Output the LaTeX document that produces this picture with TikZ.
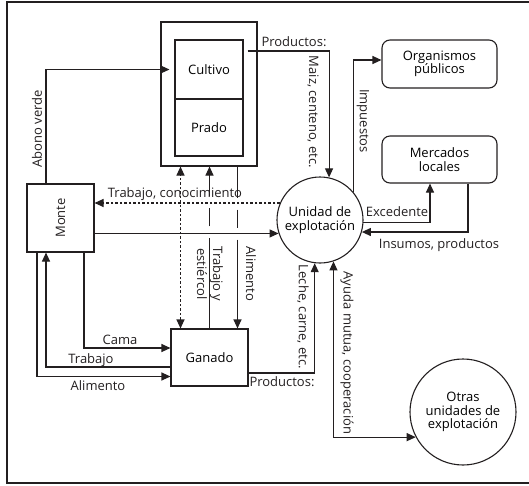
\documentclass[tikz,border=0pt]{standalone}
\usepackage{fontspec}
\setmainfont{Open Sans}
\usetikzlibrary{arrows.meta}
\definecolor{plinea}{RGB}{35,31,32}

\begin{document}
\begin{tikzpicture}[yscale=-1
,ptip/.tip={Triangle[length=9pt,width=8pt]}
,pbox/.style={draw=plinea,line width=1.1pt,inner sep=0pt,font=\fontsize{13}{13.5}\selectfont,align=center}
,pround/.style={pbox,rounded corners=8pt}
,pcirc/.style={pbox,circle}
,parrow/.style={draw=plinea,line width=1.1pt,-ptip}
,pdot/.style={parrow,dash pattern=on 2.5pt off 2pt}
,plabel/.style={inner sep=0pt,text=plinea,font=\fontsize{13}{13.5}\selectfont,align=center}
]
\useasboundingbox (0pt,0pt) rectangle (529pt,485pt);
\draw[plinea,line width=2.5pt] (7pt,2pt) rectangle (540pt,483pt);
% cajas
\node[pbox,minimum width=96pt,minimum height=144pt] (tierras) at (209pt,94pt) {};
\node[pbox,minimum width=68pt,minimum height=59pt] (cultivo) at (209pt,69.5pt) {Cultivo};
\node[pbox,minimum width=68pt,minimum height=57pt] (prado) at (209pt,127.5pt) {Prado};
\node[pbox,minimum width=67pt,minimum height=68pt] (monte) at (60.5pt,218pt) {};
\node[plabel,rotate=90] (montetxt) at (monte) {Monte};
\node[pbox,minimum width=77pt,minimum height=57pt] (ganado) at (209.5pt,357.5pt) {Ganado};
\node[pcirc,minimum size=86pt] (unidad) at (320pt,220pt) {Unidad de\\explotación};
\node[pround,minimum width=115pt,minimum height=48pt] (organismos) at (439.5pt,64pt) {Organismos\\públicos};
\node[pround,minimum width=115pt,minimum height=47pt] (mercados) at (439.5pt,159.5pt) {Mercados\\locales};
\node[pcirc,minimum size=106pt] (otras) at (463pt,412pt) {Otras\\unidades de\\explotación};
% flujos
\draw[parrow,shorten >=5pt] ([xshift=-14.5pt]monte.north) |- (cultivo.west);
\draw[parrow,shorten <=4pt] ([yshift=-18.5pt]cultivo.east) -| (unidad.78);
\draw[parrow] (unidad.40) |- ([yshift=-4pt]organismos.west);
\draw[parrow] (unidad.-3) -| ([xshift=-9.5pt]mercados.south);
\draw[parrow] ([xshift=28.5pt]mercados.south) |- (unidad.-16);
\draw[pdot] (unidad.157) -- (unidad.157 -| monte.east);
\draw[parrow] (monte.east |- unidad.198) -- (unidad.198);
\draw[pdot,ptip-ptip] ([xshift=-29pt]ganado.north) -- ([xshift=-29pt]ganado.north |- tierras.south);
\draw[parrow,dash pattern=on 90pt off 12pt on 18pt off 12pt on 100pt] (ganado.north) -- (ganado.north |- tierras.south);
\draw[parrow,dash pattern=on 31pt off 12pt on 18pt off 12pt on 100pt] ([xshift=28.5pt]tierras.south) -- ([xshift=28.5pt]tierras.south |- ganado.north);
\draw[parrow] ([xshift=23.5pt]monte.south) |- ([yshift=-9.5pt]ganado.west);
\draw[parrow] ([yshift=9.5pt]ganado.west) -| ([xshift=-14.5pt]monte.south);
\draw[parrow] ([xshift=-23.5pt]monte.south) |- ([yshift=19pt]ganado.west);
\draw[parrow] ([yshift=15.5pt]ganado.east) -| (unidad.263);
\draw[parrow,ptip-ptip] (unidad.288) |- (otras.208);
% etiquetas
\node[plabel,rotate=90] (lblabono) at (37pt,129pt) {Abono verde};
\node[plabel] (lbltrabcon) at (175pt,194pt) {Trabajo, conocimiento};
\node[plabel] (lblprodsup) at (294pt,42pt) {Productos:};
\node[plabel,rotate=-90] (lblmaiz) at (313pt,112pt) {Maiz, centeno, etc.};
\node[plabel,rotate=-90] (lblimpuestos) at (363pt,121pt) {Impuestos};
\node[plabel] (lblexcedente) at (397pt,212pt) {Excedente};
\node[plabel] (lblinsumos) at (439pt,245pt) {Insumos, productos};
\node[plabel,rotate=-90,font=\fontsize{13}{16}\selectfont] (lbltrabest) at (210pt,274pt) {Trabajo y\\estiércol};
\node[plabel,rotate=-90] (lblalimsup) at (251pt,274pt) {Alimento};
\node[plabel] (lblcama) at (120pt,340pt) {Cama};
\node[plabel] (lbltrabajo) at (91pt,360pt) {Trabajo};
\node[plabel] (lblaliminf) at (98pt,386pt) {Alimento};
\node[plabel] (lblprodinf) at (282pt,382pt) {Productos:};
\node[plabel,rotate=-90] (lblleche) at (303pt,317pt) {Leche, carne, etc.};
\node[plabel,rotate=-90] (lblayuda) at (347pt,353pt) {Ayuda mutua, cooperación};
\end{tikzpicture}
\end{document}
